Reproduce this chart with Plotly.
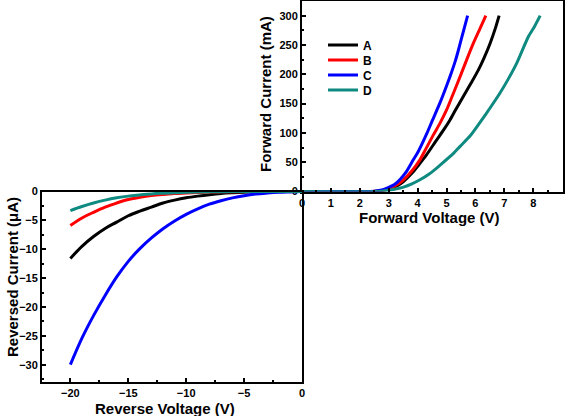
import plotly.graph_objects as go

W, H = 565, 416

# ---------------- data ----------------
series_names = ["A", "B", "C", "D"]
series_colors = ["#000000", "#ff0000", "#0000ff", "#0f8a80"]

# Forward (V, mA)
fwd_v_A = [0, 2.0, 2.6, 2.9, 3.1, 3.3, 3.51, 3.8, 4.08, 4.3, 4.66, 4.9, 5.12, 5.3, 5.58, 5.85, 6.10, 6.3, 6.51, 6.7, 6.82]
fwd_i_A = [0, 0, 0.5, 3, 6, 10, 17, 31, 48, 62, 88, 105, 122, 138, 162, 185, 207, 228, 253, 280, 300]
fwd_v_B = [0, 2.0, 2.6, 2.9, 3.05, 3.3, 3.51, 3.8, 4.08, 4.3, 4.55, 4.78, 5.01, 5.2, 5.47, 5.7, 5.93, 6.15, 6.36]
fwd_i_B = [0, 0, 0.5, 3, 6, 12, 20, 35, 54, 74, 97, 117, 140, 163, 196, 225, 253, 277, 300]
fwd_v_C = [0, 2.0, 2.5, 2.8, 3.0, 3.2, 3.4, 3.6, 3.85, 4.0, 4.32, 4.5, 4.78, 5.0, 5.12, 5.3, 5.41, 5.5, 5.73]
fwd_i_C = [0, 0, 0.5, 3, 7, 12, 21, 33, 54, 66, 99, 120, 152, 180, 196, 222, 241, 258, 300]
fwd_v_D = [0, 2.6, 2.93, 3.2, 3.51, 3.8, 4.08, 4.4, 4.66, 4.78, 5.24, 5.47, 5.82, 6.16, 6.5, 6.85, 7.15, 7.43, 7.83, 8.05, 8.24]
fwd_i_D = [0, 0, 1.7, 4, 7.5, 13, 20, 30, 40, 45, 65, 77, 95, 118, 142, 168, 193, 219, 264, 282, 300]

# Reverse (V, uA)
rev_v = [-20, -19, -18, -17, -16, -15, -14, -13, -12, -11, -10, -9, -8, -7, -6, -5, -4, -3, -2, -1, 0]
rev_i_A = [-11.6, -9.5, -7.8, -6.4, -5.3, -4.2, -3.4, -2.7, -2.0, -1.5, -1.1, -0.8, -0.55, -0.35, -0.22, -0.12, -0.06, -0.03, -0.01, 0, 0]
rev_i_B = [-5.9, -4.6, -3.6, -2.7, -2.0, -1.4, -1.0, -0.7, -0.5, -0.35, -0.25, -0.17, -0.1, -0.06, -0.03, -0.02, -0.01, 0, 0, 0, 0]
rev_i_C = [-30, -25.4, -21.5, -18.0, -14.8, -12.1, -9.9, -8.05, -6.45, -5.1, -3.95, -3.0, -2.2, -1.6, -1.1, -0.72, -0.45, -0.28, -0.15, -0.07, 0]
rev_i_D = [-3.3, -2.6, -2.0, -1.5, -1.1, -0.8, -0.6, -0.42, -0.3, -0.2, -0.14, -0.09, -0.06, -0.04, -0.02, -0.01, 0, 0, 0, 0, 0]

fwd_v = [fwd_v_A, fwd_v_B, fwd_v_C, fwd_v_D]
fwd_i = [fwd_i_A, fwd_i_B, fwd_i_C, fwd_i_D]
rev_i = [rev_i_A, rev_i_B, rev_i_C, rev_i_D]

# ---------------- figure ----------------
def px(x):
    return x / W

def py(y):
    return 1 - y / H

legend_ids = ["legend", "legend2", "legend3", "legend4"]

fig = go.Figure()
for k in range(4):
    fig.add_trace(go.Scatter(x=rev_v, y=rev_i[k], mode="lines", name=series_names[k],
                             line=dict(color=series_colors[k], width=3, shape="spline"),
                             xaxis="x2", yaxis="y2", showlegend=False))
for k in range(4):
    fig.add_trace(go.Scatter(x=fwd_v[k], y=fwd_i[k], mode="lines", name=series_names[k],
                             line=dict(color=series_colors[k], width=3, shape="spline", smoothing=0.6),
                             xaxis="x", yaxis="y", legend=legend_ids[k]))

tickfont = dict(family="Liberation Sans, Arial, sans-serif", size=11, color="black", weight="bold")
common = dict(showgrid=False, zeroline=False, showline=True, linecolor="black", linewidth=2,
              mirror=True, ticks="inside", ticklen=4, tickwidth=1.5, tickcolor="black",
              tickfont=tickfont, automargin=False)

fx0, fx1 = px(302), px(563)
fy0, fy1 = py(191.5), py(1)
rx0, rx1 = px(42), px(302)
ry0, ry1 = py(382), py(191.5)

legfont = dict(family="Liberation Sans, Arial, sans-serif", size=12, color="black", weight="bold")
layout_legends = {}
for k in range(4):
    layout_legends[legend_ids[k]] = dict(
        x=px(323), y=py(45 + 15 * k), xanchor="left", yanchor="middle",
        bgcolor="rgba(0,0,0,0)", borderwidth=0, font=legfont, itemwidth=30)

fig.update_layout(
    width=W, height=H, margin=dict(l=0, r=0, t=0, b=0),
    paper_bgcolor="white", plot_bgcolor="white",
    xaxis=dict(domain=[fx0, fx1], range=[0, 9.03], dtick=1, tick0=0,
               minor=dict(ticks="inside", ticklen=2, dtick=0.5, tickcolor="black"),
               anchor="y", **common),
    yaxis=dict(domain=[fy0, fy1], range=[0, 325], dtick=50, tick0=0,
               minor=dict(ticks="inside", ticklen=2, dtick=25, tickcolor="black"),
               anchor="x", **common),
    xaxis2=dict(domain=[rx0, rx1], range=[-22.45, 0], dtick=5, tick0=0,
                minor=dict(ticks="inside", ticklen=2, dtick=2.5, tickcolor="black"),
                anchor="y2", **common),
    yaxis2=dict(domain=[ry0, ry1], range=[-33, 0], dtick=5, tick0=0,
                minor=dict(ticks="inside", ticklen=2, dtick=2.5, tickcolor="black"),
                anchor="x2", **common),
    showlegend=True,
    **layout_legends,
)

titlefont = dict(family="Liberation Sans, Arial, sans-serif", size=15, color="black", weight="bold")
anns = [
    dict(text="Forward Current (mA)", x=px(266), y=py(94), textangle=-90),
    dict(text="Forward Voltage (V)", x=px(429), y=py(217), textangle=0),
    dict(text="Reversed Current (\u03bcA)", x=px(12), y=py(277), textangle=-90),
    dict(text="Reverse Voltage (V)", x=px(165), y=py(408), textangle=0),
]
for a in anns:
    fig.add_annotation(xref="paper", yref="paper", xanchor="center", yanchor="middle",
                       showarrow=False, font=titlefont, **a)

fig.write_html("out.html", config={"displayModeBar": False},
               post_script="document.body.style.margin='0';document.body.style.overflow='hidden';")
